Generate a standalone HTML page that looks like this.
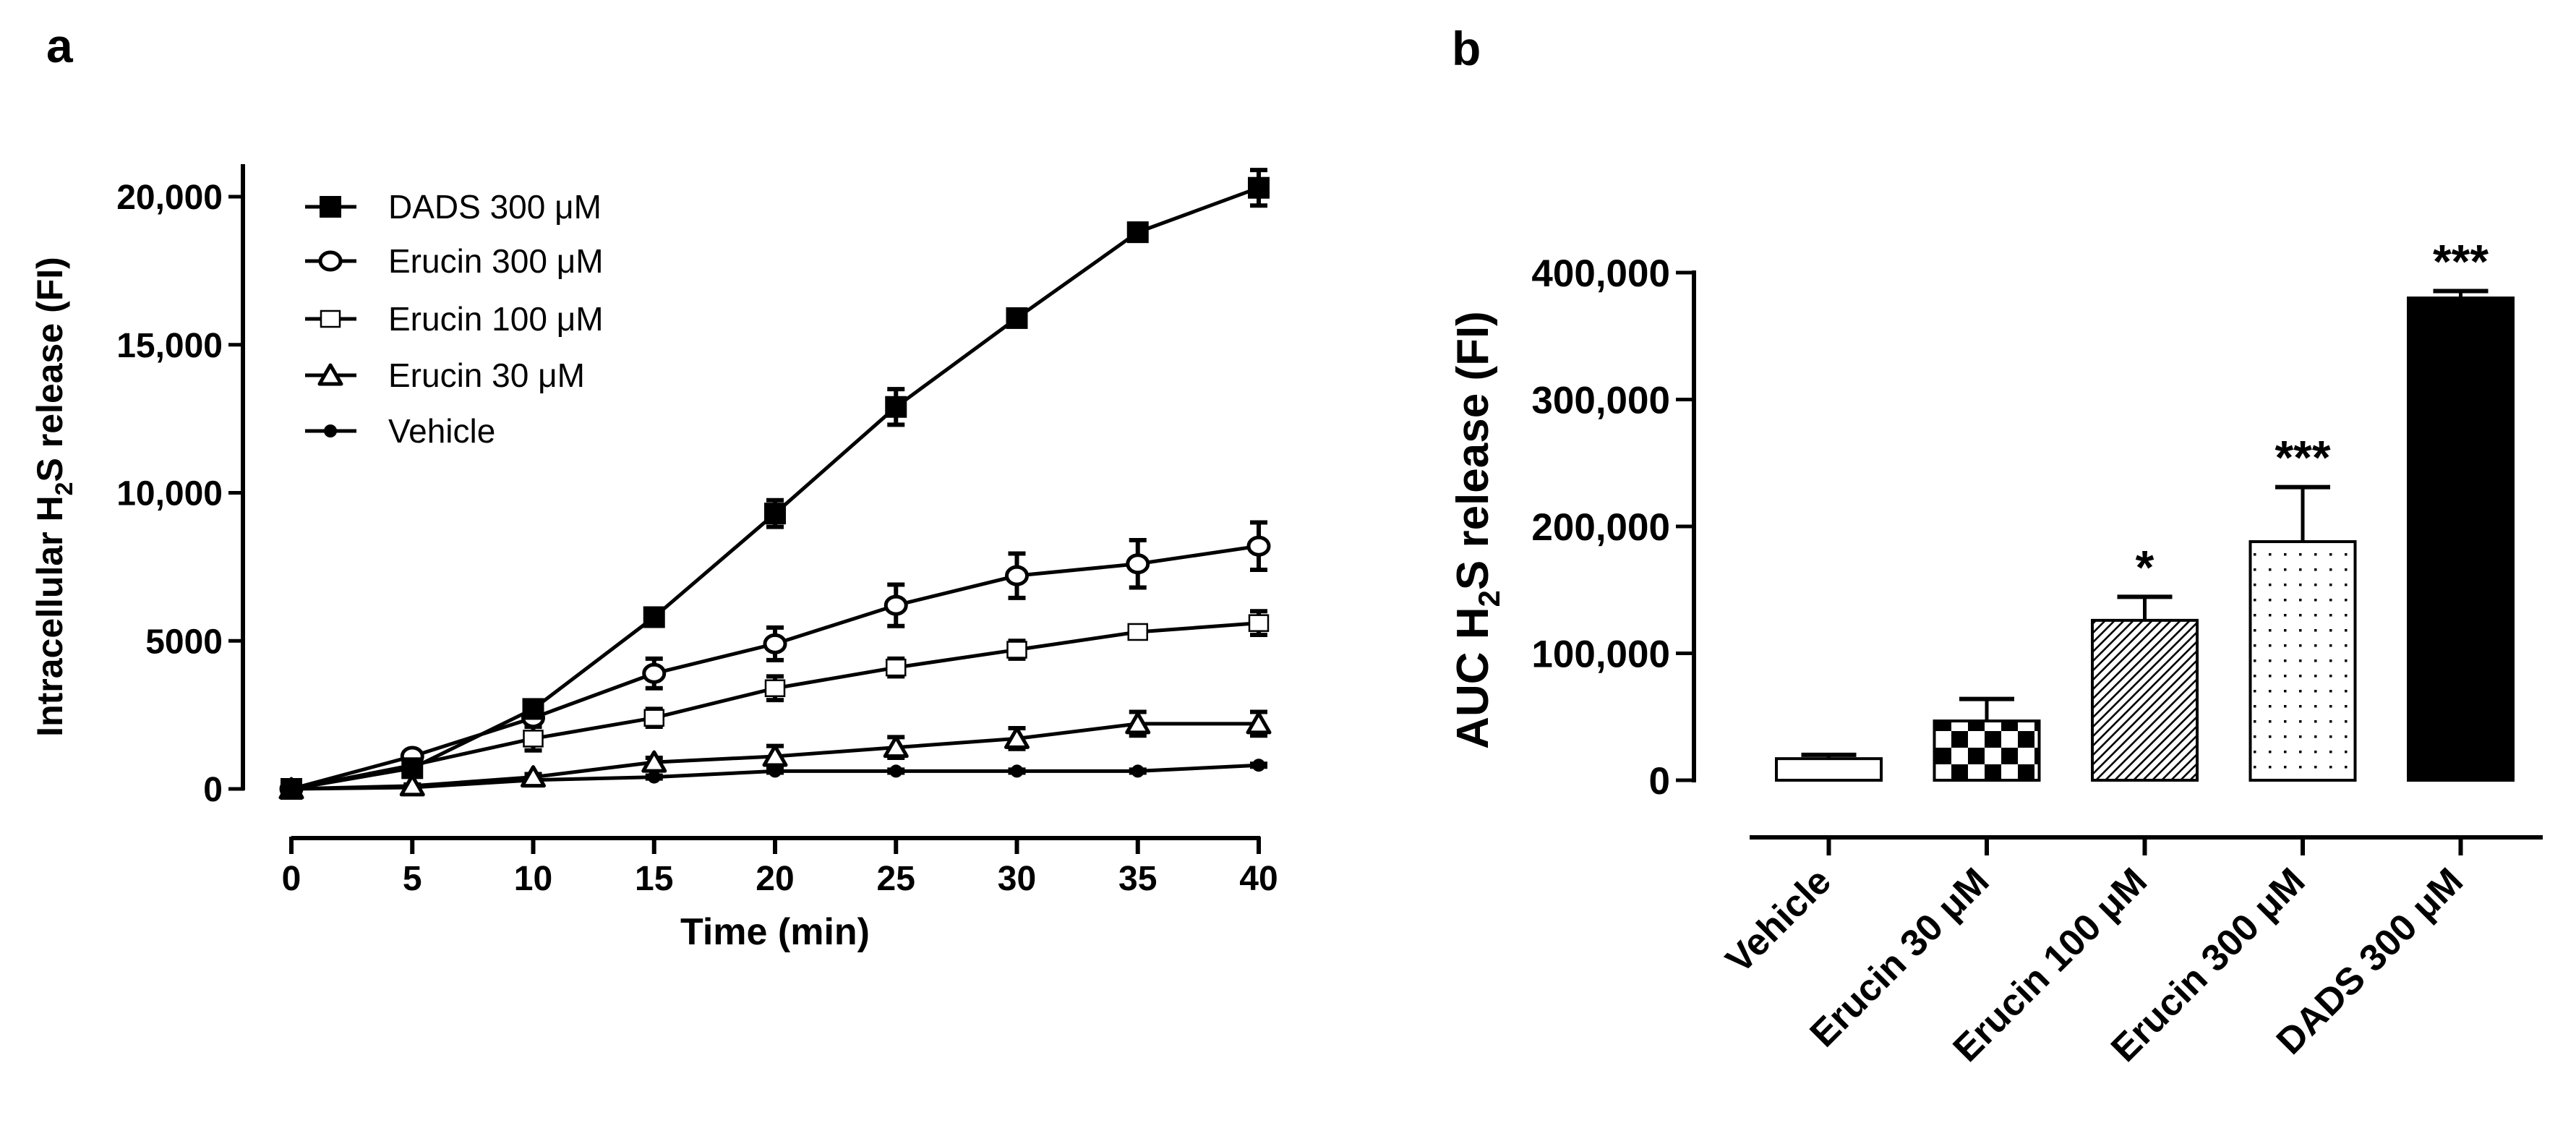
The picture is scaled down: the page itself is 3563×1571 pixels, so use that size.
<!DOCTYPE html>
<html><head><meta charset="utf-8"><style>
html,body{margin:0;padding:0;background:#fff;}
svg{display:block;font-family:"Liberation Sans",Arial,sans-serif;}
</style></head><body>
<svg id="fig" width="3563" height="1571" viewBox="0 0 3563 1571" xmlns="http://www.w3.org/2000/svg">
<defs>
<pattern id="checker" width="46" height="46" patternUnits="userSpaceOnUse" x="2676" y="1080">
<rect width="46" height="46" fill="#fff"/><rect width="23" height="23" fill="#000"/><rect x="23" y="23" width="23" height="23" fill="#000"/>
</pattern>
<pattern id="hatch" width="13" height="13" patternUnits="userSpaceOnUse">
<rect width="13" height="13" fill="#fff"/><path d="M-2,15 L15,-2 M-3,3 L3,-3 M10,16 L16,10" stroke="#000" stroke-width="2.6"/>
</pattern>
<pattern id="dots" width="21" height="21" patternUnits="userSpaceOnUse">
<rect width="21" height="21" fill="#fff"/><rect x="9" y="9" width="3.5" height="3.5" fill="#000"/>
</pattern>
</defs>
<text x="64" y="86" font-size="66" font-weight="bold">a</text>
<text x="2008" y="90" font-size="66" font-weight="bold">b</text>
<g id="pa"></g>
<g id="pb"></g>
</svg>
<script>
const times = [0,5,10,15,20,25,30,35,40];
const dadsVals = [0,700,2700,5800,9300,12900,15900,18800,20300];
const dadsErr = [150,150,200,150,450,600,200,150,600];
const e300Vals = [0,1100,2400,3900,4900,6200,7200,7600,8200];
const e300Err = [150,150,300,500,550,700,750,800,800];
const e100Vals = [0,800,1700,2400,3400,4100,4700,5300,5600];
const e100Err = [150,100,400,300,400,300,300,150,400];
const e30Vals = [0,100,400,900,1100,1400,1700,2200,2200];
const e30Err = [150,50,100,150,350,350,350,400,400];
const vehVals = [0,50,300,400,600,600,600,600,800];
const vehErr = [100,50,50,50,50,50,50,50,50];
const aYTicks = [0,5000,10000,15000,20000];
const aYTickLabels = ["0","5000","10,000","15,000","20,000"];
const aXTicks = [0,5,10,15,20,25,30,35,40];

const barCats = ["Vehicle","Erucin 30 μM","Erucin 100 μM","Erucin 300 μM","DADS 300 μM"];
const barVals = [17000,46700,126000,188000,380000];
const barErr = [3000,17300,18500,43000,5500];
const barStars = ["","","*","***","***"];
const bYTicks = [0,100000,200000,300000,400000];
const bYTickLabels = ["0","100,000","200,000","300,000","400,000"];

const NS="http://www.w3.org/2000/svg";
function mk(parent,tag,attrs){const e=document.createElementNS(NS,tag);for(const k in attrs)e.setAttribute(k,attrs[k]);parent.appendChild(e);return e;}

// ---- Panel a ----
const pa=document.getElementById('pa');
const ax=t=>403+(t-0)*(1741-403)/40;
const ay=v=>1091-v*(1091-272)/20000;
let e;
e=mk(pa,'line',{x1:336,y1:227,x2:336,y2:1093,stroke:'#000','stroke-width':6});


aYTicks.forEach((t,i)=>{
  e=mk(pa,'line',{x1:316,y1:ay(t),x2:338,y2:ay(t),stroke:'#000','stroke-width':5});
  
  
  e=mk(pa,'text',{x:308,y:ay(t)+17,'text-anchor':'end','font-size':48,'font-weight':'bold'});
  e.textContent=aYTickLabels[i];
  
  
});
e=mk(pa,'line',{x1:403,y1:1159,x2:1743,y2:1159,stroke:'#000','stroke-width':6});


aXTicks.forEach(t=>{
  e=mk(pa,'line',{x1:ax(t),y1:1157,x2:ax(t),y2:1181,stroke:'#000','stroke-width':6});
  
  
  e=mk(pa,'text',{x:ax(t),y:1231,'text-anchor':'middle','font-size':48,'font-weight':'bold'});
  e.textContent=String(t);
  
  
});
e=mk(pa,'text',{x:1072,y:1306,'text-anchor':'middle','font-size':52,'font-weight':'bold'});
e.textContent='Time (min)';


e=mk(pa,'text',{x:0,y:0,'text-anchor':'middle','font-size':50,'font-weight':'bold',transform:'translate(86,687) rotate(-90)'});
e.innerHTML='Intracellular H<tspan font-size="34" dy="14">2</tspan><tspan dy="-14">S release (FI)</tspan>';



function marker(g,type,x,y){
  let m;
  if(type==='fsq') m=mk(g,'rect',{x:x-15,y:y-15,width:30,height:30,fill:'#000'});
  else if(type==='ocirc') m=mk(g,'ellipse',{cx:x,cy:y,rx:14,ry:12,fill:'#fff',stroke:'#000','stroke-width':5});
  else if(type==='osq') m=mk(g,'rect',{x:x-13,y:y-11,width:26,height:22,fill:'#fff',stroke:'#000','stroke-width':2.5});
  else if(type==='otri') m=mk(g,'path',{d:`M${x},${y-14} L${x+15},${y+12} L${x-15},${y+12} Z`,fill:'#fff',stroke:'#000','stroke-width':5,'stroke-linejoin':'round'});
  else m=mk(g,'circle',{cx:x,cy:y,r:9,fill:'#000'});
  return m;
}
const seriesList=[
 {name:'DADS 300 μM',vals:dadsVals,err:dadsErr,m:'fsq',id:'dads-300'},
 {name:'Erucin 300 μM',vals:e300Vals,err:e300Err,m:'ocirc',id:'erucin-300'},
 {name:'Erucin 100 μM',vals:e100Vals,err:e100Err,m:'osq',id:'erucin-100'},
 {name:'Erucin 30 μM',vals:e30Vals,err:e30Err,m:'otri',id:'erucin-30'},
 {name:'Vehicle',vals:vehVals,err:vehErr,m:'fdot',id:'vehicle'}
];
seriesList.slice().reverse().forEach(s=>{
  const g=mk(pa,'g',{});
  
  
  const pts=s.vals.map((v,i)=>ax(times[i])+','+ay(v)).join(' ');
  e=mk(g,'polyline',{points:pts,fill:'none',stroke:'#000','stroke-width':5,'stroke-linejoin':'round'});
  
  
  s.vals.forEach((v,i)=>{
    const x=ax(times[i]);
    const hi=ay(v+s.err[i]), lo=ay(v-s.err[i]);
    e=mk(g,'path',{d:`M${x},${hi} L${x},${lo} M${x-12},${hi} L${x+12},${hi} M${x-12},${lo} L${x+12},${lo}`,stroke:'#000','stroke-width':6,fill:'none'});
    
    
    e=marker(g,s.m,x,ay(v));
    
    
  });
});
const legY=[286,361,441,519,596];
seriesList.forEach((s,i)=>{
  const g=mk(pa,'g',{});
  
  
  mk(g,'line',{x1:422,y1:legY[i],x2:493,y2:legY[i],stroke:'#000','stroke-width':5});
  marker(g,s.m,457,legY[i]);
  const t=mk(g,'text',{x:537,y:legY[i]+16,'font-size':46});
  t.textContent=s.name;
});

// ---- Panel b ----
const pb=document.getElementById('pb');
const by=v=>1079-v*(1079-377)/400000;
const bx0=2457,bw=145,bpitch=218.5;
e=mk(pb,'line',{x1:2343,y1:374,x2:2343,y2:1082,stroke:'#000','stroke-width':6});


bYTicks.forEach((t,i)=>{
  e=mk(pb,'line',{x1:2318,y1:by(t),x2:2345,y2:by(t),stroke:'#000','stroke-width':5});
  
  
  e=mk(pb,'text',{x:2310,y:by(t)+19,'text-anchor':'end','font-size':53,'font-weight':'bold'});
  e.textContent=bYTickLabels[i];
  
  
});
e=mk(pb,'text',{x:0,y:0,'text-anchor':'middle','font-size':62,'font-weight':'bold',transform:'translate(2058,733) rotate(-90)'});
e.innerHTML='AUC H<tspan font-size="42" dy="16">2</tspan><tspan dy="-16">S release (FI)</tspan>';


e=mk(pb,'line',{x1:2420,y1:1158,x2:3517,y2:1158,stroke:'#000','stroke-width':6});


const fills=['#fff','url(#checker)','url(#hatch)','url(#dots)','#000'];
barCats.forEach((c,i)=>{
  const x=bx0+i*bpitch, cx=x+bw/2, top=by(barVals[i]), et=by(barVals[i]+barErr[i]);
  e=mk(pb,'line',{x1:cx,y1:top,x2:cx,y2:et,stroke:'#000','stroke-width':5});
  
  
  e=mk(pb,'line',{x1:cx-38,y1:et,x2:cx+38,y2:et,stroke:'#000','stroke-width':6});
  
  
  e=mk(pb,'rect',{x:x,y:top,width:bw,height:by(0)-top,fill:fills[i],stroke:'#000','stroke-width':4});
  
  
  if(barStars[i]){
    e=mk(pb,'text',{x:cx,y:et-18,'text-anchor':'middle','font-size':66,'font-weight':'bold'});
    e.textContent=barStars[i];
    
    
  }
  e=mk(pb,'line',{x1:cx,y1:1156,x2:cx,y2:1183,stroke:'#000','stroke-width':6});
  
  
  e=mk(pb,'text',{x:0,y:0,'text-anchor':'end','font-size':52,'font-weight':'bold',transform:`translate(${cx+6},${1222}) rotate(-45)`});
  e.textContent=c;
  
  
});
</script>
</body></html>
